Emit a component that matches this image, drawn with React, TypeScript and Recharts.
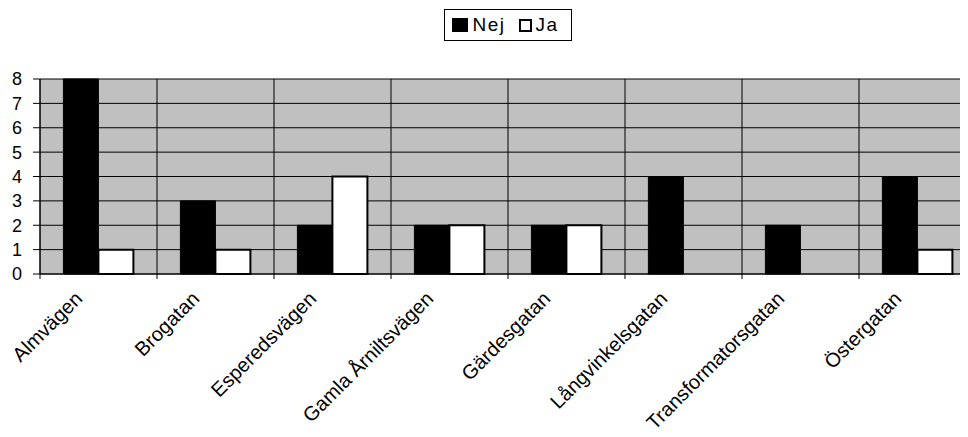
import React from 'react';
import { BarChart, Bar, XAxis, YAxis, CartesianGrid, Legend } from 'recharts';

const streets = [
  'Almvägen',
  'Brogatan',
  'Esperedsvägen',
  'Gamla Årniltsvägen',
  'Gärdesgatan',
  'Långvinkelsgatan',
  'Transformatorsgatan',
  'Östergatan',
];
const nej = [8, 3, 2, 2, 2, 4, 2, 4];
const ja = [1, 1, 4, 2, 2, 0, 0, 1];
const yTicks = [0, 1, 2, 3, 4, 5, 6, 7, 8];

const data = streets.map((street, i) => ({ street, Nej: nej[i], Ja: ja[i] }));

const W = 968;
const H = 429;
const Y_AXIS_W = 32;
const margin = { top: 71, right: 0, bottom: 13, left: 0 };
const step = (W - Y_AXIS_W - margin.left - margin.right) / streets.length;
const font = '"Liberation Sans", Arial, sans-serif';

const StreetTick = (props: any) => {
  const { x, y, payload } = props;
  const left = x - step / 2;
  const tx = x - 15;
  const ty = y + 26;
  return (
    <g>
      <line x1={left} y1={y} x2={left} y2={y + 5} stroke="#000" />
      <text
        x={tx}
        y={ty}
        textAnchor="end"
        transform={`rotate(-45, ${tx}, ${ty})`}
        fontSize={20}
        fontFamily={font}
        fill="#000"
      >
        {payload.value}
      </text>
    </g>
  );
};

const LegendBox = () => (
  <div style={{ display: 'flex', justifyContent: 'center' }}>
    <div
      style={{
        border: '1px solid #000',
        display: 'flex',
        alignItems: 'center',
        height: 30,
        padding: '0 12px 0 7px',
        fontFamily: font,
        fontSize: 19,
        letterSpacing: 1.5,
        background: '#fff',
      }}
    >
      <span style={{ width: 16, height: 14, background: '#000', display: 'inline-block' }} />
      <span style={{ marginLeft: 4, marginRight: 14 }}>Nej</span>
      <span
        style={{
          width: 9,
          height: 9,
          border: '2px solid #000',
          background: '#fff',
          display: 'inline-block',
        }}
      />
      <span style={{ marginLeft: 3 }}>Ja</span>
    </div>
  </div>
);

const App = () => (
  <div style={{ width: 960, height: H, overflow: 'hidden', marginBottom: -8 }}>
    <BarChart width={W} height={H} data={data} margin={margin} barCategoryGap="20%" barGap={0}>
      <CartesianGrid
        fill="#C0C0C0"
        stroke="#000"
        strokeOpacity={1}
        verticalCoordinatesGenerator={({ offset }: any) =>
          streets.map((_, i) => offset.left + (i * offset.width) / streets.length)
        }
      />
      <XAxis
        dataKey="street"
        interval={0}
        tickSize={0}
        tickMargin={0}
        tick={<StreetTick />}
        height={150}
        axisLine={{ stroke: '#000' }}
      />
      <YAxis
        domain={[0, 8]}
        ticks={yTicks}
        interval={0}
        width={Y_AXIS_W}
        tickSize={7}
        tickMargin={11}
        axisLine={{ stroke: '#000' }}
        tickLine={{ stroke: '#000' }}
        tick={{ fill: '#000', fontSize: 18, fontFamily: font }}
      />
      <Legend
        verticalAlign="middle"
        align="center"
        layout="horizontal"
        wrapperStyle={{ top: 1, left: Y_AXIS_W, width: W - Y_AXIS_W }}
        content={<LegendBox />}
      />
      <Bar dataKey="Nej" fill="#000" stroke="#000" isAnimationActive={false} />
      <Bar dataKey="Ja" fill="#fff" stroke="#000" strokeWidth={2} isAnimationActive={false} />
    </BarChart>
  </div>
);

export default App;
